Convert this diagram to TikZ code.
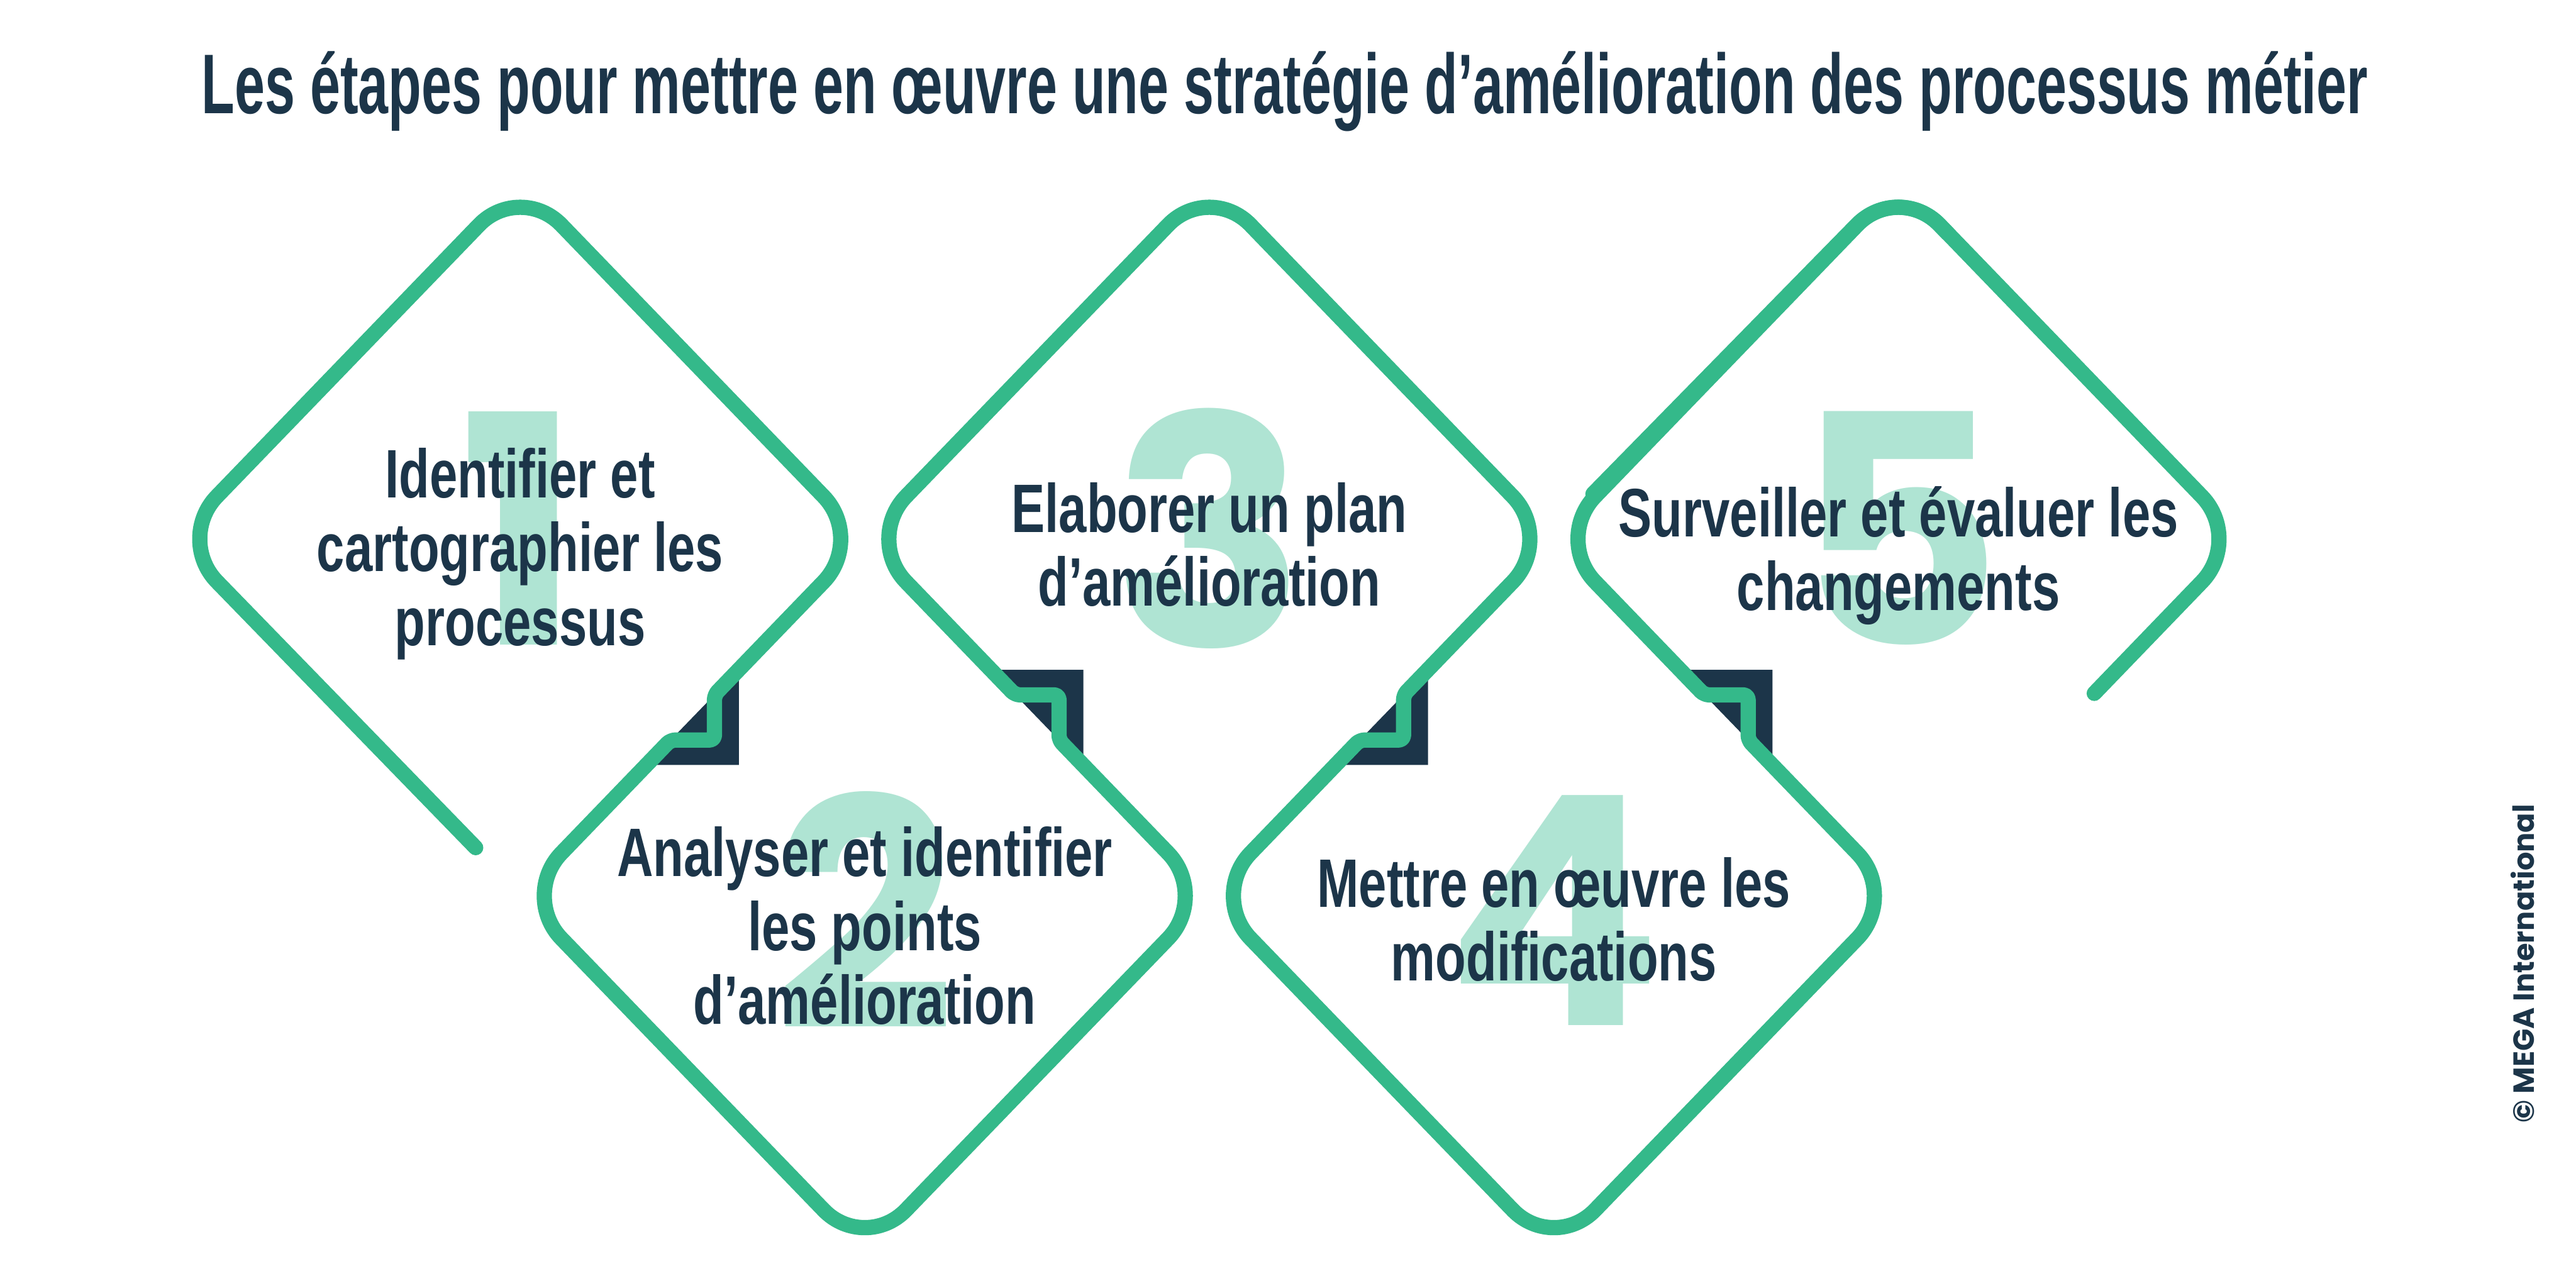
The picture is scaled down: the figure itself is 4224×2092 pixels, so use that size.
\documentclass[tikz,border=0pt]{standalone}
\usepackage{fontspec}
\usepackage{tikz}
\usetikzlibrary{calc}

\definecolor{stepgreen}{HTML}{34B98A}
\definecolor{digitmint}{HTML}{AFE4D3}
\definecolor{inknavy}{HTML}{1C3549}

\newfontfamily\titlefont{Liberation Sans}[FakeStretch=0.64]
\newfontfamily\labelfont{Liberation Sans}[FakeStretch=0.73]
\newfontfamily\digitfont{Poppins}

\tikzset{
  stepline/.style={draw=stepgreen, line width=0.25cm, line cap=round,
                   line join=round, rounded corners=0.97cm},
  stepshade/.style={fill=inknavy},
  digit/.style={text=digitmint, inner sep=0pt,
                font=\digitfont\bfseries\fontsize{149}{149}\selectfont},
  steplabel/.style={text=inknavy, align=center, inner sep=0pt,
                    font=\labelfont\bfseries\fontsize{32}{34.4}\selectfont}
}

\begin{document}
\begin{tikzpicture}[x=0.01cm, y=-0.01cm]
  \fill[white] (0,0) rectangle (4224,2092);

  % corners of the zigzag
  \coordinate (E1) at (780,1390);
  \coordinate (L1) at (288,884);
  \coordinate (T1) at (853,299);
  \coordinate (R1) at (1418,884);
  \coordinate (L2) at (853,1469);
  \coordinate (B2) at (1418,2054);
  \coordinate (R2) at (1983,1469);
  \coordinate (T3) at (1983,299);
  \coordinate (R3) at (2548,884);
  \coordinate (B4) at (2548,2054);
  \coordinate (R4) at (3113,1469);
  \coordinate (T5) at (3113,299);
  \coordinate (R5) at (3678,884);
  \coordinate (E5) at (3434,1137);
  % the little steps
  \coordinate (a12) at (1171.5,1139.5);
  \coordinate (c12) at (1171.5,1213.5);
  \coordinate (b12) at (1099.5,1213.5);
  \coordinate (a23) at (1736.5,1213.5);
  \coordinate (c23) at (1736.5,1139.5);
  \coordinate (b23) at (1664.5,1139.5);
  \coordinate (a34) at (2301.5,1139.5);
  \coordinate (c34) at (2301.5,1213.5);
  \coordinate (b34) at (2229.5,1213.5);
  \coordinate (a45) at (2866.5,1213.5);
  \coordinate (c45) at (2866.5,1139.5);
  \coordinate (b45) at (2794.5,1139.5);

  % dark shadows behind the steps
  \foreach \mx/\s in {1135.5/1, 1700.5/-1, 2265.5/1, 2830.5/-1}
    \fill[stepshade] (\mx+76,1176.5+78*\s) -- (\mx+76,1176.5-78.5*\s)
      -- (\mx-75.5,1176.5+78*\s) -- cycle;

  % big numbers
  \node[digit] (num1) at (853,866) {1};
  \node[digit] (num2) at (1418,1493) {2};
  \node[digit] (num3) at (1983,866) {3};
  \node[digit] (num4) at (2548,1493) {4};
  \node[digit] (num5) at (3113,866) {5};

  \draw[stepline] (E1) -- (L1) -- (T1) -- (R1)
    [rounded corners=0.08cm] -- (a12) -- (c12) -- (b12)
    [rounded corners=0.97cm] -- (L2) -- (B2) -- (R2)
    [rounded corners=0.08cm] -- (a23) -- (c23) -- (b23)
    [rounded corners=0.97cm] -- (R1) -- (T3) -- (R3)
    [rounded corners=0.08cm] -- (a34) -- (c34) -- (b34)
    [rounded corners=0.97cm] -- (R2) -- (B4) -- (R4)
    [rounded corners=0.08cm] -- (a45) -- (c45) -- (b45)
    [rounded corners=0.97cm] -- (R3) -- (T5) -- (R5) -- (E5);
  % heavier upper left edge of the last diamond
  \draw[stepline, shift={(-4,-4)}] (2616,814) -- (T5) -- (3198,387);

  \node[steplabel] (step1) at (853,908) {Identifier et\\cartographier les\\processus};
  \node[steplabel] (step2) at (1418,1518) {Analyser et identifier\\les points\\d’amélioration};
  \node[steplabel] (step3) at (1983,893) {Elaborer un plan\\d’amélioration};
  \node[steplabel] (step4) at (2548,1508) {Mettre en œuvre les\\modifications};
  \node[steplabel] (step5) at (3113,911) {Surveiller et évaluer les\\changements};

  \node[text=inknavy, inner sep=0pt, anchor=base,
        font=\titlefont\bfseries\fontsize{39.5}{40}\selectfont] (title) at (2107,186)
    {Les étapes pour mettre en œuvre une stratégie d’amélioration des processus métier};
  \node[text=inknavy, inner sep=0pt, rotate=90,
        font=\digitfont\bfseries\fontsize{13.6}{14}\selectfont] (credit) at (4136,1580)
    {© MEGA International};
\end{tikzpicture}
\end{document}
